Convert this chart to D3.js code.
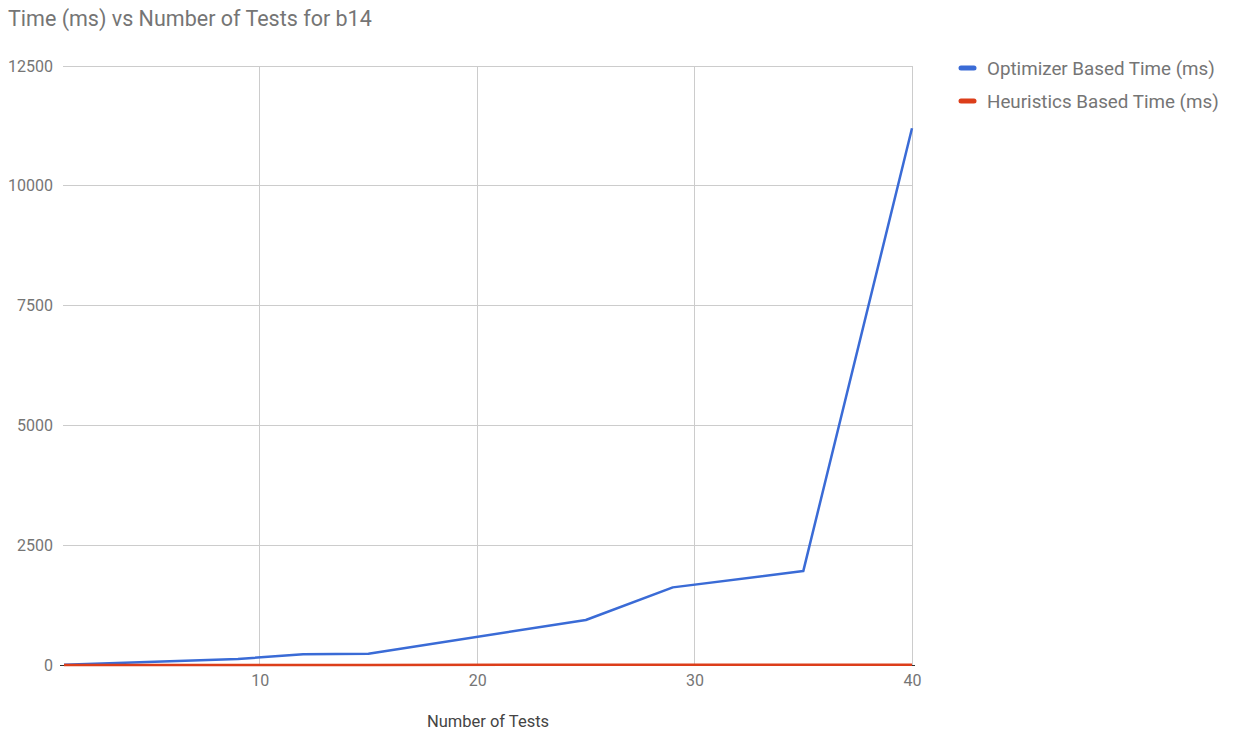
<!DOCTYPE html>
<html>
<head>
<meta charset="utf-8">
<script src="https://cdn.jsdelivr.net/npm/d3@7"></script>
<style>
  html, body { margin: 0; padding: 0; background: #fff; }
  svg { display: block; font-family: Roboto, "Noto Sans", sans-serif; }
</style>
</head>
<body>
<svg id="chart" width="1234" height="734"></svg>
<script>
const tests = [1, 9, 12, 15, 25, 29, 35, 40];
const optimizerTime = [5, 125, 225, 235, 940, 1620, 1960, 11200];
const heuristicsTime = [1, 1, 2, 2, 3, 3, 4, 5];
const seriesNames = ["Optimizer Based Time (ms)", "Heuristics Based Time (ms)"];
const seriesColors = ["#3a6bd6", "#dc3e1a"];
const yTicks = [0, 2500, 5000, 7500, 10000, 12500];
const xTicks = [10, 20, 30, 40];
const title = "Time (ms) vs Number of Tests for b14";
const xTitle = "Number of Tests";

const svg = d3.select("#chart");

const x = d3.scaleLinear().domain([1, 40]).range([64, 912]);
const y = d3.scaleLinear().domain([0, 12500]).range([665, 66]);

// title
svg.append("text").attr("x", 8).attr("y", 26)
  .attr("font-size", 21.5).attr("fill", "#757575").text(title);

// horizontal gridlines
svg.append("g").selectAll("line").data(yTicks.filter(d => d !== 0)).join("line")
  .attr("x1", 63).attr("x2", 913)
  .attr("y1", d => y(d)).attr("y2", d => y(d))
  .attr("stroke", "#cccccc").attr("stroke-width", 1).attr("shape-rendering", "crispEdges");

// vertical gridlines
svg.append("g").selectAll("line").data(xTicks).join("line")
  .attr("x1", d => x(d)).attr("x2", d => x(d))
  .attr("y1", y(12500)).attr("y2", y(0))
  .attr("stroke", "#cccccc").attr("stroke-width", 1).attr("shape-rendering", "crispEdges");

// y axis labels
const yAxis = d3.axisLeft(y).tickValues(yTicks).tickSize(0).tickPadding(10).tickFormat(d3.format("d"));
const gy = svg.append("g").attr("transform", "translate(63,0)").call(yAxis);
gy.select(".domain").remove();
gy.selectAll("text").attr("font-size", 16).attr("fill", "#757575").attr("font-family", "Roboto, sans-serif");

// x axis labels
const xAxis = d3.axisBottom(x).tickValues(xTicks).tickSize(0).tickPadding(10).tickFormat(d3.format("d"));
const gx = svg.append("g").attr("transform", `translate(0,${y(0)})`).call(xAxis);
gx.select(".domain").remove();
gx.selectAll("text").attr("font-size", 16).attr("fill", "#757575").attr("font-family", "Roboto, sans-serif");

// baseline
svg.append("line").attr("x1", 60).attr("x2", 915)
  .attr("y1", y(0)).attr("y2", y(0))
  .attr("stroke", "#333").attr("stroke-width", 1).attr("shape-rendering", "crispEdges");

// x title
svg.append("text").attr("x", 488).attr("y", 727).attr("text-anchor", "middle")
  .attr("font-size", 16.5).attr("fill", "#444").text(xTitle);

// lines
const line = d3.line().x((d, i) => x(tests[i])).y(d => y(d));
[optimizerTime, heuristicsTime].forEach((vals, k) => {
  svg.append("path").datum(vals)
    .attr("d", line)
    .attr("fill", "none")
    .attr("stroke", seriesColors[k])
    .attr("stroke-width", 2.5)
    .attr("stroke-linejoin", "round");
});

// legend
const lg = svg.append("g");
seriesNames.forEach((name, k) => {
  const yy = 68 + k * 33;
  lg.append("line").attr("x1", 961).attr("x2", 974).attr("y1", yy).attr("y2", yy)
    .attr("stroke", seriesColors[k]).attr("stroke-width", 5).attr("stroke-linecap", "round");
  lg.append("text").attr("x", 987).attr("y", yy + 7)
    .attr("font-size", 18.8).attr("fill", "#757575").text(name);
});
</script>
</body>
</html>
